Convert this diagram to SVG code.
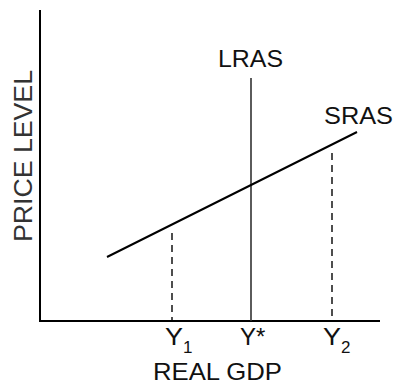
<svg xmlns="http://www.w3.org/2000/svg" width="400" height="384" viewBox="0 0 400 384">
<style>
.lbl{font-family:"Liberation Sans",Arial,Helvetica,sans-serif;font-size:24px;fill:#111}
.sub{font-family:"Liberation Sans",Arial,Helvetica,sans-serif;font-size:17px;fill:#111}
.axis{stroke:#000;stroke-width:2;fill:none}
.curve{stroke:#000;stroke-width:2;fill:none}
.dash{stroke:#222;stroke-width:1.6;stroke-dasharray:7,5;fill:none}
</style>
<rect width="400" height="384" fill="#fff"/>
<g id="connectors">
<line class="axis" x1="40" y1="10" x2="40" y2="322"/>
<line class="axis" x1="39" y1="321" x2="380" y2="321"/>
<line class="dash" x1="172" y1="233" x2="172" y2="320"/>
<line class="dash" x1="332" y1="153" x2="332" y2="320"/>
<line stroke="#333" stroke-width="1.6" x1="251" y1="78" x2="251" y2="321"/>
<line class="curve" x1="107" y1="257" x2="357" y2="132"/>
</g>
<g id="lras-label"><text class="lbl" x="218" y="67" textLength="65" lengthAdjust="spacingAndGlyphs">LRAS</text></g>
<g id="sras-label"><text class="lbl" x="324" y="124" textLength="69" lengthAdjust="spacingAndGlyphs">SRAS</text></g>
<g id="y-axis-label"><text class="lbl" transform="translate(32,242) rotate(-90)" style="font-size:26.5px;fill:#333" textLength="172" lengthAdjust="spacingAndGlyphs">PRICE LEVEL</text></g>
<g id="x-axis-label"><text class="lbl" x="153" y="380" textLength="129" lengthAdjust="spacingAndGlyphs">REAL GDP</text></g>
<g id="y1"><text class="lbl" x="165" y="345" textLength="18" lengthAdjust="spacingAndGlyphs">Y</text><text class="sub" x="183" y="353">1</text></g>
<g id="ystar"><text class="lbl" x="240" y="345">Y*</text></g>
<g id="y2"><text class="lbl" x="323" y="345" textLength="18" lengthAdjust="spacingAndGlyphs">Y</text><text class="sub" x="341" y="353">2</text></g>
</svg>
